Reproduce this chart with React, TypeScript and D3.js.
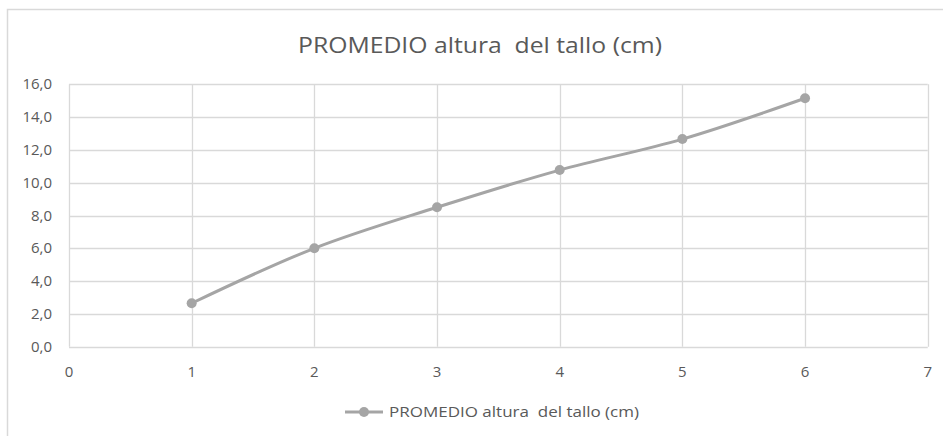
import React, { useEffect, useRef } from "react";
import * as d3 from "d3";

const xValues = [1, 2, 3, 4, 5, 6];
const yValues = [2.65, 6.0, 8.5, 10.77, 12.66, 15.15];
const xTicks = [0, 1, 2, 3, 4, 5, 6, 7];
const yTicks = [0, 2, 4, 6, 8, 10, 12, 14, 16];
const seriesName = "PROMEDIO altura  del tallo (cm)";
const chartTitle = "PROMEDIO altura  del tallo (cm)";

const App: React.FC = () => {
  const svgRef = useRef<SVGSVGElement | null>(null);

  useEffect(() => {
    const width = 943;
    const height = 436;
    const font = "'Open Sans', 'DejaVu Sans', sans-serif";
    const textColor = "#595959";
    const gridColor = "#d9d9d9";
    const seriesColor = "#a5a5a5";

    const svg = d3.select(svgRef.current);
    svg.selectAll("*").remove();
    svg.attr("width", width).attr("height", height);

    // chart frame
    svg.append("rect")
      .attr("x", 7.5)
      .attr("y", 9.5)
      .attr("width", width + 20)
      .attr("height", height + 20)
      .attr("fill", "#fff")
      .attr("stroke", gridColor)
      .attr("stroke-width", 1.5);

    const x = d3.scaleLinear().domain([0, 7]).range([69, 927.7]);
    const y = d3.scaleLinear().domain([0, 16]).range([346.7, 84.3]);

    // gridlines
    svg.append("g")
      .selectAll("line")
      .data(yTicks)
      .join("line")
      .attr("x1", x(0))
      .attr("x2", x(7))
      .attr("y1", d => Math.round(y(d)) + 0.5)
      .attr("y2", d => Math.round(y(d)) + 0.5)
      .attr("stroke", gridColor)
      .attr("stroke-width", 1.3);

    svg.append("g")
      .selectAll("line")
      .data(xTicks)
      .join("line")
      .attr("x1", d => Math.round(x(d)) + 0.5)
      .attr("x2", d => Math.round(x(d)) + 0.5)
      .attr("y1", y(16))
      .attr("y2", y(0))
      .attr("stroke", gridColor)
      .attr("stroke-width", 1.3);

    // tick labels
    svg.append("g")
      .selectAll("text")
      .data(yTicks)
      .join("text")
      .attr("x", 52)
      .attr("y", d => y(d) + 5)
      .attr("text-anchor", "end")
      .style("font-family", font)
      .style("font-size", "15px")
      .attr("fill", textColor)
      .text(d => d3.format(".1f")(d).replace(".", ","));

    svg.append("g")
      .selectAll("text")
      .data(xTicks)
      .join("text")
      .attr("x", d => x(d))
      .attr("y", 377)
      .attr("text-anchor", "middle")
      .style("font-family", font)
      .style("font-size", "15px")
      .attr("fill", textColor)
      .text(d => String(d));

    // title
    svg.append("text")
      .attr("x", 480)
      .attr("y", 53)
      .attr("text-anchor", "middle")
      .attr("textLength", 364)
      .attr("lengthAdjust", "spacingAndGlyphs")
      .style("font-family", font)
      .style("font-size", "21px")
      .style("white-space", "pre")
      .attr("fill", textColor)
      .text(chartTitle);

    // series
    const pts: [number, number][] = xValues.map((v, i) => [v, yValues[i]]);
    const line = d3.line<[number, number]>()
      .x(d => x(d[0]))
      .y(d => y(d[1]))
      .curve(d3.curveCatmullRom.alpha(0.5));

    svg.append("path")
      .datum(pts)
      .attr("d", line)
      .attr("fill", "none")
      .attr("stroke", seriesColor)
      .attr("stroke-width", 3)
      .attr("stroke-linecap", "round");

    svg.append("g")
      .selectAll("circle")
      .data(pts)
      .join("circle")
      .attr("cx", d => x(d[0]))
      .attr("cy", d => y(d[1]))
      .attr("r", 5)
      .attr("fill", seriesColor);

    // legend
    const lg = svg.append("g");
    lg.append("line")
      .attr("x1", 345)
      .attr("x2", 383)
      .attr("y1", 412)
      .attr("y2", 412)
      .attr("stroke", seriesColor)
      .attr("stroke-width", 3);
    lg.append("circle")
      .attr("cx", 364)
      .attr("cy", 412)
      .attr("r", 5)
      .attr("fill", seriesColor);
    lg.append("text")
      .attr("x", 389)
      .attr("y", 417)
      .attr("textLength", 250)
      .attr("lengthAdjust", "spacingAndGlyphs")
      .style("font-family", font)
      .style("font-size", "14.5px")
      .style("white-space", "pre")
      .attr("fill", textColor)
      .text(seriesName);
  }, []);

  return (
    <div style={{ position: "absolute", left: 0, top: 0 }}>
      <svg ref={svgRef} style={{ display: "block" }}></svg>
    </div>
  );
};

export default App;
